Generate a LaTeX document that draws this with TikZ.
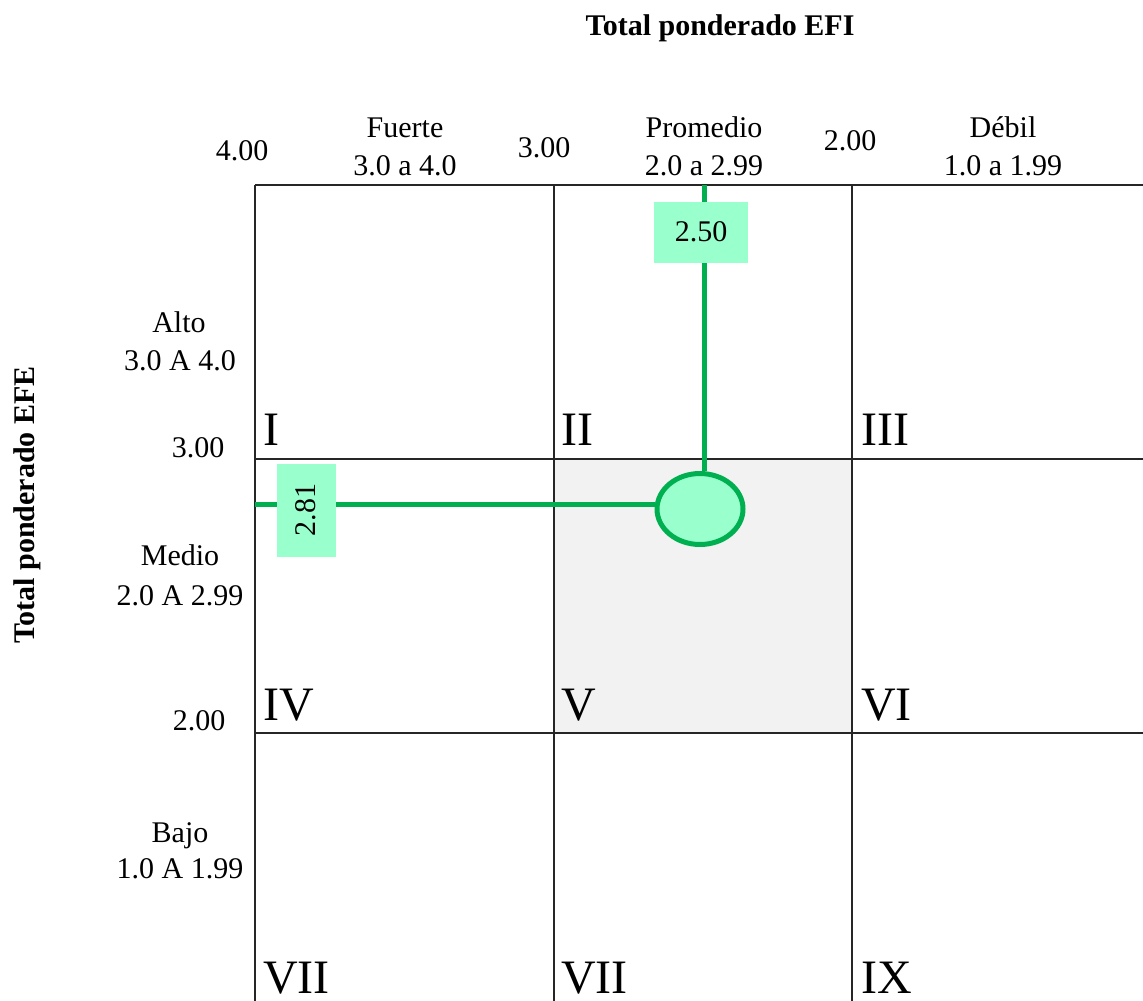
\documentclass[tikz,border=0pt]{standalone}
\usepackage{fontspec}
\setmainfont{Liberation Serif}
\definecolor{verde}{HTML}{00B050}
\definecolor{verdeclaro}{HTML}{99FFCC}
\definecolor{gris}{HTML}{F2F2F2}
\usetikzlibrary{positioning,shapes.geometric}
\tikzset{
  txt/.style={font=\fontsize{30}{36}\selectfont,inner sep=0pt,anchor=base},
  tit/.style={txt,font=\fontsize{30}{36}\selectfont\bfseries},
  rom/.style={font=\fontsize{48}{56}\selectfont,inner sep=0pt,anchor=base west},
  rejilla/.style={line width=1.5pt,draw=black!85},
  linea/.style={draw=verde,line width=5pt},
  valor/.style={fill=verdeclaro,font=\fontsize{30}{36}\selectfont,inner sep=0pt},
}
\begin{document}
\begin{tikzpicture}[x=1pt,y=-1pt]
\useasboundingbox (0,0) rectangle (1143,1001);
% Celda V sombreada
\fill[gris] (554,459) rectangle (852,733);
% Rejilla
\foreach \x in {255,554,852} \draw[rejilla] (\x,185) -- (\x,1001);
\foreach \y in {185,459,733} \draw[rejilla] (255,\y) -- (1143,\y);
% Titulos de los ejes
\node[tit] (efi) at (720,35) {Total ponderado EFI};
\node[tit,rotate=90] (efe) at (34,505) {Total ponderado EFE};
% Encabezados EFI
\node[txt] (v400) at (242,160) {4.00};
\node[txt] (fuerte) at (405,137) {Fuerte};
\node[txt] (rfuerte) at (405,175) {3.0 a 4.0};
\node[txt] (v300) at (544,157) {3.00};
\node[txt] (promedio) at (704,137) {Promedio};
\node[txt] (rpromedio) at (704,175) {2.0 a 2.99};
\node[txt] (v200) at (850,150) {2.00};
\node[txt] (debil) at (1003,137) {Débil};
\node[txt] (rdebil) at (1003,175) {1.0 a 1.99};
% Encabezados EFE
\node[txt] (alto) at (179,332) {Alto};
\node[txt] (ralto) at (180,370) {3.0 A 4.0};
\node[txt] (h300) at (198,457) {3.00};
\node[txt] (medio) at (180,565) {Medio};
\node[txt] (rmedio) at (180,605) {2.0 A 2.99};
\node[txt] (h200) at (199,730) {2.00};
\node[txt] (bajo) at (180,842) {Bajo};
\node[txt] (rbajo) at (180,878) {1.0 A 1.99};
% Cuadrantes
\node[rom] (c1) at (263,445) {I};
\node[rom] (c2) at (561,445) {II};
\node[rom] (c3) at (861,445) {III};
\node[rom] (c4) at (263,720) {IV};
\node[rom] (c5) at (561,720) {V};
\node[rom] (c6) at (861,720) {VI};
\node[rom] (c7) at (263,993) {VII};
\node[rom] (c8) at (561,993) {VII};
\node[rom] (c9) at (861,993) {IX};
% Punto de interseccion
\node[ellipse,draw=verde,fill=verdeclaro,line width=5pt,minimum width=86pt,minimum height=71pt,inner sep=0pt] (punto) at (700,509) {};
\coordinate (efitop) at (704,185);
\coordinate (efeizq) at (255,504);
\draw[linea] (efitop) -- (efitop |- punto.north);
\draw[linea] (efeizq) -- (efeizq -| punto.west);
% Valores
\node[valor,minimum width=94pt,minimum height=61pt] (val250) at (701,232) {2.50};
\node[valor,rotate=90,minimum width=93pt,minimum height=59pt] (val281) at (306,510) {2.81};
\end{tikzpicture}
\end{document}
